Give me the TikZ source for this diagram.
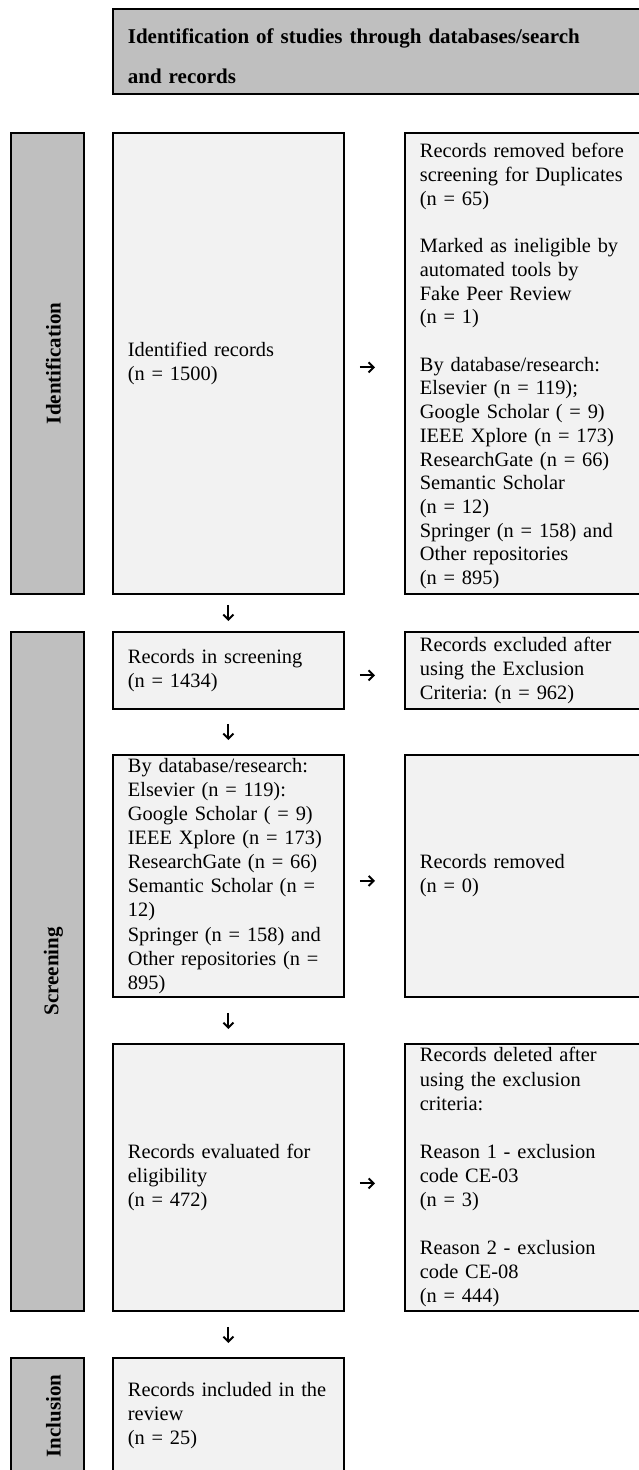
\documentclass[tikz,border=0pt]{standalone}
\usepackage{fontspec}
\setmainfont{Liberation Serif}
\usepackage{graphicx}
\usetikzlibrary{arrows.meta}
\definecolor{hdrgray}{HTML}{BFBFBF}
\definecolor{boxfill}{HTML}{F2F2F2}
\frenchspacing
\tikzset{
  base/.style={draw=black, line width=1.8pt, anchor=north west, inner xsep=15pt, inner ysep=2pt,
    align=left, font=\fontsize{20.4}{24.1}\selectfont},
  mbox/.style={base, fill=boxfill, text width=201pt, minimum width=231pt},
  rbox/.style={base, fill=boxfill, text width=266pt, minimum width=296pt},
  lbox/.style={base, fill=hdrgray, inner xsep=0pt, align=center, minimum width=73pt,
    font=\fontsize{21}{24.1}\selectfont\bfseries},
  hbox/.style={base, fill=hdrgray, text width=558pt, minimum width=588pt, inner ysep=0pt,
    font=\fontsize{21}{40}\selectfont\bfseries},
  arr/.style={line width=2pt, -{Straight Barb[length=5pt,width=10pt]}},
}
\newcommand{\rotlabel}[1]{\hspace*{12pt}\rotatebox{90}{#1}}
\begin{document}
\begin{tikzpicture}[x=1pt, y=-1pt]
\useasboundingbox (0,0) rectangle (639,1470);
\clip (0,0) rectangle (639,1470);

% header
\node[hbox, minimum height=85pt, text height=35pt, text depth=50pt] (head) at (112,8)
  {Identification of studies through databases/search\\and records};

% Identification row
\node[lbox, minimum height=461pt] (idL) at (10,132) {\rotlabel{Identification}};
\node[mbox, minimum height=461pt] (idM) at (112,132) {Identified records\\(n = 1500)};
\node[rbox, minimum height=461pt, inner ysep=0pt, text height=25pt, text depth=436pt,
      font=\fontsize{20.4}{23.7}\selectfont] (idR) at (404,132)
  {Records removed before\\screening for Duplicates\\(n = 65)\\~\\Marked as ineligible by\\automated tools by\\Fake Peer Review\\(n = 1)\\~\\By database/research:\\Elsevier (n = 119);\\Google Scholar ( = 9)\\IEEE Xplore (n = 173)\\ResearchGate (n = 66)\\Semantic Scholar\\(n = 12)\\Springer (n = 158) and\\Other repositories\\(n = 895)};

% Screening rows
\node[lbox, minimum height=679pt] (scL) at (10,631) {\rotlabel{Screening}};
\node[mbox, minimum height=77pt] (scM1) at (112,631) {Records in screening\\(n = 1434)};
\node[rbox, minimum height=77pt] (scR1) at (404,631)
  {Records excluded after\\using the Exclusion\\Criteria: (n = 962)};

\node[mbox, minimum height=242pt] (scM2) at (112,754)
  {\mbox{By database/research:}\\\mbox{Elsevier (n = 119):}\\\mbox{Google Scholar ( = 9)}\\\mbox{IEEE Xplore (n = 173)}\\\mbox{ResearchGate (n = 66)}\\\mbox{Semantic Scholar (n =}\\12)\\\mbox{Springer (n = 158) and}\\\mbox{Other repositories (n =}\\895)};
\node[rbox, minimum height=242pt] (scR2) at (404,754) {Records removed\\(n = 0)};

\node[mbox, minimum height=267pt] (scM3) at (112,1043)
  {Records evaluated for\\eligibility\\(n = 472)};
\node[rbox, minimum height=267pt] (scR3) at (404,1043)
  {Records deleted after\\using the exclusion\\criteria:\\~\\Reason 1 - exclusion\\code CE-03\\(n = 3)\\~\\Reason 2 - exclusion\\code CE-08\\(n = 444)};

% Inclusion row
\node[lbox, minimum height=116pt] (inL) at (10,1357) {\rotlabel{Inclusion}};
\node[mbox, minimum height=116pt] (inM) at (112,1357)
  {\mbox{Records included in the}\\review\\(n = 25)};

% vertical arrows
\draw[arr, shorten <=10pt, shorten >=10pt] (idM.south) -- (scM1.north);
\draw[arr, shorten <=14pt, shorten >=14pt] (scM1.south) -- (scM2.north);
\draw[arr, shorten <=15pt, shorten >=14pt] (scM2.south) -- (scM3.north);
\draw[arr, shorten <=15pt, shorten >=14pt] (scM3.south) -- (inM.north);

% horizontal arrows
\draw[arr, shorten <=15pt, shorten >=29pt] ([yshift=-4pt]idM.east) -- ([yshift=-4pt]idR.west);
\draw[arr, shorten <=15pt, shorten >=29pt] ([yshift=-5pt]scM1.east) -- ([yshift=-5pt]scR1.west);
\draw[arr, shorten <=15pt, shorten >=29pt] ([yshift=-5pt]scM2.east) -- ([yshift=-5pt]scR2.west);
\draw[arr, shorten <=15pt, shorten >=29pt] ([yshift=-6pt]scM3.east) -- ([yshift=-6pt]scR3.west);
\end{tikzpicture}
\end{document}
